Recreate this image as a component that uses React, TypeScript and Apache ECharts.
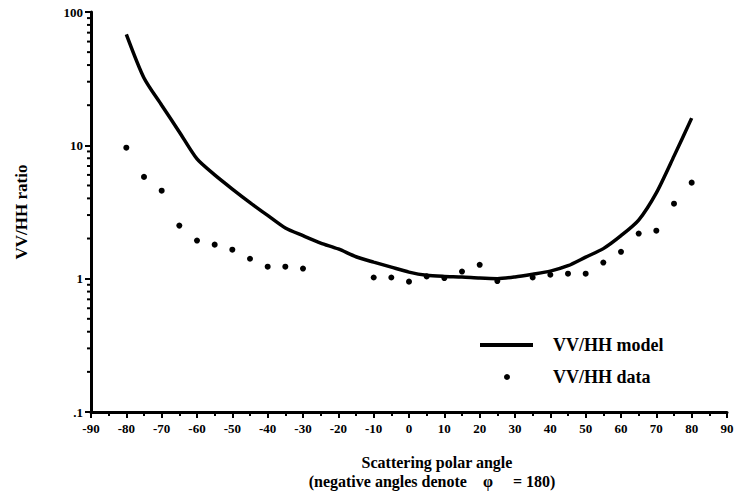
import React, { useEffect, useRef } from "react";
import * as echarts from "echarts";

// Scattering polar angle (degrees); negative angles denote phi = 180
const modelAngles = [-80, -75, -70, -65, -60, -55, -50, -45, -40, -35, -30, -25, -20, -15, -10, -5, 0, 5, 10, 15, 20, 25, 30, 35, 40, 45, 50, 55, 60, 65, 70, 75, 80];
const modelRatio = [68, 32, 20, 12.6, 7.9, 6.0, 4.7, 3.72, 2.98, 2.4, 2.1, 1.85, 1.67, 1.46, 1.33, 1.22, 1.12, 1.06, 1.04, 1.03, 1.01, 1.0, 1.03, 1.08, 1.14, 1.25, 1.45, 1.68, 2.1, 2.75, 4.4, 8.3, 16];

const dataAngles = [-80, -75, -70, -65, -60, -55, -50, -45, -40, -35, -30, -10, -5, 0, 5, 10, 15, 20, 25, 35, 40, 45, 50, 55, 60, 65, 70, 75, 80];
const dataRatio = [9.6, 5.8, 4.57, 2.5, 1.93, 1.8, 1.65, 1.41, 1.23, 1.23, 1.19, 1.02, 1.02, 0.95, 1.04, 1.01, 1.13, 1.27, 0.96, 1.02, 1.07, 1.09, 1.09, 1.32, 1.59, 2.18, 2.29, 3.65, 5.25];

// Log-axis minor tick values (2..9 within each decade)
const decades = [0.1, 1, 10];
const minorSteps = [2, 3, 4, 5, 6, 7, 8, 9];

const FONT = "'Liberation Serif', 'DejaVu Serif', serif";

export default function App() {
  const ref = useRef<HTMLDivElement>(null);

  useEffect(() => {
    if (!ref.current) return;
    const chart = echarts.init(ref.current, null, { renderer: "svg" });

    const minorVals: number[] = [];
    decades.forEach((d) => minorSteps.forEach((s) => minorVals.push(+(d * s).toPrecision(3))));

    chart.setOption({
      animation: false,
      backgroundColor: "#fff",
      grid: { left: 91, right: 9, top: 12, bottom: 83, containLabel: false, outerBoundsMode: "none" },
      xAxis: {
        type: "value",
        min: -90,
        max: 90,
        interval: 10,
        axisLine: { onZero: false, lineStyle: { color: "#000", width: 3 } },
        axisTick: { show: true, length: 6, lineStyle: { color: "#000", width: 2 } },
        minorTick: { show: true, splitNumber: 2, length: 4, lineStyle: { color: "#000", width: 2 } },
        splitLine: { show: false },
        axisLabel: {
          color: "#000",
          fontFamily: FONT,
          fontWeight: "bold",
          fontSize: 13,
          margin: 10,
          showMinLabel: true,
          showMaxLabel: true,
        },
      },
      yAxis: {
        type: "log",
        logBase: 10,
        min: 0.1,
        max: 100,
        name: "VV/HH ratio",
        nameLocation: "middle",
        nameGap: 61,
        nameRotate: 90,
        nameTextStyle: { color: "#000", fontFamily: FONT, fontWeight: "bold", fontSize: 17 },
        axisLine: { show: true, onZero: false, lineStyle: { color: "#000", width: 3 } },
        axisTick: { show: true, length: 6, lineStyle: { color: "#000", width: 2 } },
        splitLine: { show: false },
        axisLabel: {
          color: "#000",
          fontFamily: FONT,
          fontWeight: "bold",
          fontSize: 13,
          margin: 8,
          formatter: (v: number) => (v < 1 ? "." + String(v).split(".")[1] : String(v)),
        },
      },
      legend: [
        {
          data: [{ name: "VV/HH model", icon: "rect" }],
          orient: "vertical",
          left: 480,
          top: 336,
          padding: 0,
          itemWidth: 53,
          itemHeight: 4,
          selectedMode: false,
          textStyle: { color: "#000", fontFamily: FONT, fontWeight: "bold", fontSize: 18, padding: [0, 0, 0, 15] },
        },
        {
          data: [{ name: "VV/HH data", icon: "circle" }],
          orient: "vertical",
          left: 504,
          top: 368,
          padding: 0,
          itemWidth: 6,
          itemHeight: 6,
          selectedMode: false,
          textStyle: { color: "#000", fontFamily: FONT, fontWeight: "bold", fontSize: 18, padding: [0, 0, 0, 38] },
        },
      ],
      graphic: [
        {
          type: "text",
          x: 437,
          y: 462,
          style: {
            text: "Scattering polar angle",
            fill: "#000",
            font: `bold 16px ${FONT}`,
            textAlign: "center",
            textVerticalAlign: "middle",
          },
        },
        {
          type: "text",
          x: 432,
          y: 481,
          style: {
            text: "(negative angles denote    φ     = 180)",
            fill: "#000",
            font: `bold 16px ${FONT}`,
            textAlign: "center",
            textVerticalAlign: "middle",
          },
        },
      ],
      series: [
        {
          name: "VV/HH model",
          type: "line",
          data: modelAngles.map((a, i) => [a, modelRatio[i]]),
          symbol: "none",
          smooth: 0.25,
          lineStyle: { color: "#000", width: 3.5 },
          itemStyle: { color: "#000" },
        },
        {
          name: "VV/HH data",
          type: "scatter",
          data: dataAngles.map((a, i) => [a, dataRatio[i]]),
          symbol: "circle",
          symbolSize: 6,
          itemStyle: { color: "#000", opacity: 1 },
        },
        {
          // minor ticks on the logarithmic y axis, pointing outward
          type: "custom",
          silent: true,
          clip: false,
          data: minorVals.map((v) => [-90, v]),
          renderItem: (_params: any, api: any) => {
            const p = api.coord([api.value(0), api.value(1)]);
            return {
              type: "line",
              shape: { x1: p[0] - 4, y1: p[1], x2: p[0], y2: p[1] },
              style: { stroke: "#000", lineWidth: 2 },
            };
          },
        },
      ],
    });

    return () => chart.dispose();
  }, []);

  return <div ref={ref} style={{ position: "absolute", left: 0, top: 0, width: 736, height: 495 }} />;
}
